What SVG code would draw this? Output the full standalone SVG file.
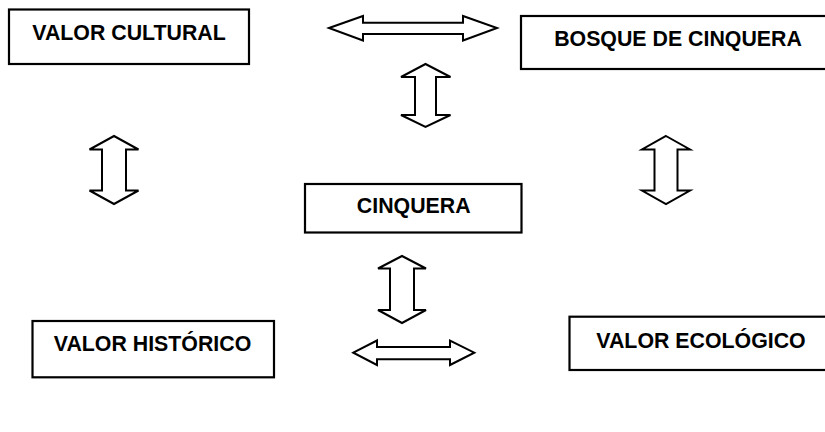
<svg xmlns="http://www.w3.org/2000/svg" width="825" height="432" viewBox="0 0 825 432">
<style>
.box{fill:#fff;stroke:#000;stroke-width:2.2}
.lbl{font-family:"Liberation Sans",Arial,sans-serif;font-weight:bold;font-size:21.33px;fill:#000;text-anchor:middle}
.arr{fill:#fff;stroke:#000;stroke-width:2;stroke-linejoin:miter}
</style>
<rect width="825" height="432" fill="#fff"/>
<g id="connectors">
<polygon class="arr" points="329,28 363,16 363,22.7 463,22.7 463,16 497,28 463,40.5 463,34 363,34 363,40.5"/>
<polygon class="arr" points="425.5,64 450.5,77 436,77 436,115 450.5,115 425.5,127 401,115 415,115 415,77 401,77"/>
<polygon class="arr" points="114,136 138.5,149.5 126,149.5 126,190.5 138.5,190.5 114,204 89.5,190.5 102,190.5 102,149.5 89.5,149.5"/>
<polygon class="arr" points="666,136 690,149.5 677.5,149.5 677.5,190.5 690,190.5 666,204 642,190.5 654.5,190.5 654.5,149.5 642,149.5"/>
<polygon class="arr" points="402,256 426,268.5 414,268.5 414,310 426,310 402,323 378,310 390,310 390,268.5 378,268.5"/>
<polygon class="arr" points="353.3,352.7 377,340.5 377,347 450,347 450,340.5 474.3,352.7 450,365 450,359.3 377,359.3 377,365"/>
</g>
<g id="valor-cultural">
<rect class="box" x="9" y="9.5" width="240" height="54.5"/>
<text class="lbl" x="129" y="40">VALOR CULTURAL</text>
</g>
<g id="bosque-de-cinquera">
<rect class="box" x="521" y="16" width="314" height="53"/>
<text class="lbl" x="678" y="46">BOSQUE DE CINQUERA</text>
</g>
<g id="cinquera">
<rect class="box" x="305" y="184" width="216.5" height="48.5"/>
<text class="lbl" x="413.7" y="213">CINQUERA</text>
</g>
<g id="valor-historico">
<rect class="box" x="32.5" y="321" width="241.5" height="56.3"/>
<text class="lbl" x="152.5" y="351">VALOR HISTÓRICO</text>
</g>
<g id="valor-ecologico">
<rect class="box" x="569.5" y="316.7" width="265" height="53.3"/>
<text class="lbl" x="701" y="348">VALOR ECOLÓGICO</text>
</g>
</svg>
